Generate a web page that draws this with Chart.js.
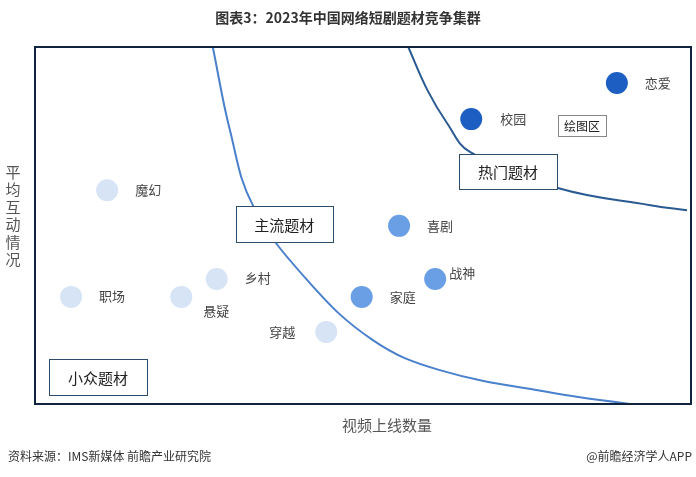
<!DOCTYPE html>
<html lang="zh-CN">
<head>
<meta charset="UTF-8">
<title>2023年中国网络短剧题材竞争集群</title>
<script src="https://cdn.jsdelivr.net/npm/chart.js"></script>
<style>
  html, body { margin: 0; padding: 0; background: #fff; }
  #wrap { position: relative; width: 696px; height: 477px; }
</style>
</head>
<body>
<div id="wrap"><canvas id="chart" width="696" height="477"></canvas></div>
<script>
// 题材 (x = 视频上线数量, y = 平均互动情况, 相对值 0-100)
const genres = ['恋爱', '校园', '喜剧', '战神', '家庭', '穿越', '乡村', '悬疑', '职场', '魔幻'];
const xValues = [88.7, 66.5, 55.5, 61.0, 49.8, 44.4, 27.7, 22.3, 5.5, 11.0];
const yValues = [89.9, 79.8, 49.9, 35.0, 30.0, 20.2, 35.0, 30.0, 30.0, 59.9];
const tiers = ['hot', 'hot', 'main', 'main', 'main', 'minor', 'minor', 'minor', 'minor', 'minor'];

// 分界曲线
const mainCurveX = [27.1, 29.7, 33.2, 41.5, 51.5, 61.7, 79.0, 90.7];
const mainCurveY = [100, 76.8, 55.7, 34.7, 17.9, 9.5, 3.1, 0];
const hotCurveX = [56.9, 59.8, 62.8, 66.3, 79.7, 93.8, 99.4];
const hotCurveY = [100, 88.0, 78.7, 70.6, 60.5, 55.7, 54.3];

// 区域标注
const zoneNames = ['主流题材', '热门题材', '小众题材', '绘图区'];
const zoneX = [38.0, 72.1, 9.6, 83.4];
const zoneY = [50.4, 65.1, 7.6, 78.0];

const tierColor = { hot: '#1c5ec2', main: '#6a9fe6', minor: '#d6e4f6' };
// 标签相对圆点的偏移（像素）
const labelOffset = [[41, 0], [42, 0], [41, 0], [27, -6], [41, 0], [-44, 0], [41, -1], [35, 14], [41, -1], [41, 0]];
const zoneSize = [[97, 36], [98, 35], [98, 36], [48, 21]];

const FONT = '"Noto Sans CJK SC", "Noto Sans", sans-serif';

const points = xValues.map((x, i) => ({ x: x, y: yValues[i] }));

const decor = {
  id: 'decor',
  afterDatasetsDraw(chart) {
    const ctx = chart.ctx;
    const a = chart.chartArea;
    const xs = chart.scales.x, ys = chart.scales.y;
    ctx.save();

    // 点标签
    ctx.font = '13px ' + FONT;
    ctx.fillStyle = '#444';
    ctx.textAlign = 'center';
    ctx.textBaseline = 'middle';
    genres.forEach((g, i) => {
      const px = xs.getPixelForValue(xValues[i]) + labelOffset[i][0];
      const py = ys.getPixelForValue(yValues[i]) + labelOffset[i][1];
      ctx.fillText(g, px, py);
    });

    // 区域标注框
    zoneNames.forEach((z, i) => {
      const cx = xs.getPixelForValue(zoneX[i]);
      const cy = ys.getPixelForValue(zoneY[i]);
      const w = zoneSize[i][0], h = zoneSize[i][1];
      const small = i === 3;
      ctx.fillStyle = '#fff';
      ctx.fillRect(cx - w / 2, cy - h / 2, w, h);
      ctx.strokeStyle = small ? '#888' : '#2d4b6b';
      ctx.lineWidth = 1;
      ctx.strokeRect(Math.round(cx - w / 2) + 0.5, Math.round(cy - h / 2) + 0.5, w, h);
      ctx.fillStyle = '#222';
      ctx.font = (small ? '12px ' : '15px ') + FONT;
      ctx.fillText(z, cx, cy + 1);
    });

    // 外框
    ctx.strokeStyle = '#10233f';
    ctx.lineWidth = 2;
    ctx.strokeRect(a.left, a.top, a.right - a.left, a.bottom - a.top);

    // 标题
    ctx.fillStyle = '#333';
    ctx.font = 'bold 14px ' + FONT;
    ctx.fillText('图表3：2023年中国网络短剧题材竞争集群', 348, 18);

    // 坐标轴标题
    ctx.fillStyle = '#555';
    ctx.font = '15px ' + FONT;
    ctx.fillText('视频上线数量', 387, 425);
    const yTitle = '平均互动情况';
    for (let i = 0; i < yTitle.length; i++) {
      ctx.fillText(yTitle[i], 13, 172 + i * 17.5);
    }

    // 脚注
    ctx.fillStyle = '#333';
    ctx.font = '12px ' + FONT;
    ctx.textAlign = 'left';
    ctx.fillText('资料来源：IMS新媒体 前瞻产业研究院', 8, 456);
    ctx.textAlign = 'right';
    ctx.fillText('@前瞻经济学人APP', 692, 456);
    ctx.restore();
  }
};

new Chart(document.getElementById('chart'), {
  type: 'scatter',
  data: {
    datasets: [
      {
        data: mainCurveX.map((x, i) => ({ x: x, y: mainCurveY[i] })),
        showLine: true,
        borderColor: '#4a80cc',
        borderWidth: 2,
        pointRadius: 0,
        tension: 0.4,
        order: 2
      },
      {
        data: hotCurveX.map((x, i) => ({ x: x, y: hotCurveY[i] })),
        showLine: true,
        borderColor: '#2a5a92',
        borderWidth: 2,
        pointRadius: 0,
        tension: 0.4,
        order: 2
      },
      {
        data: points,
        pointRadius: 11,
        pointHoverRadius: 11,
        pointBorderWidth: 0,
        pointBackgroundColor: tiers.map(t => tierColor[t]),
        order: 1
      }
    ]
  },
  options: {
    responsive: false,
    animation: false,
    layout: { autoPadding: false, padding: { left: 35, right: 5, top: 47, bottom: 73 } },
    plugins: { legend: { display: false }, tooltip: { enabled: false } },
    scales: {
      x: { type: 'linear', min: 0, max: 100, display: false },
      y: { type: 'linear', min: 0, max: 100, display: false }
    }
  },
  plugins: [decor]
});
</script>
</body>
</html>
